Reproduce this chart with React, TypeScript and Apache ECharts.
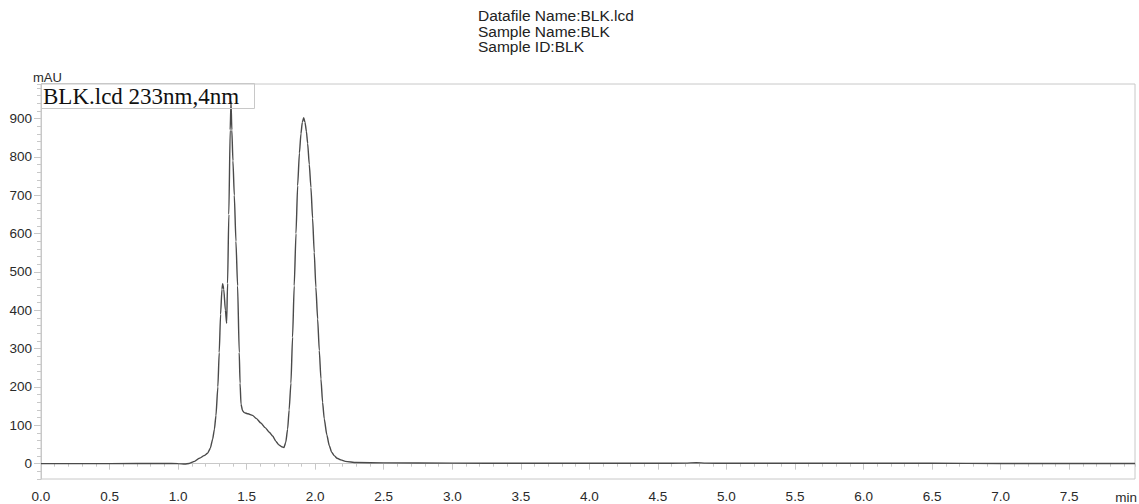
import React, { useEffect, useRef } from "react";
import * as echarts from "echarts";

const titleLines = ["Datafile Name:BLK.lcd", "Sample Name:BLK", "Sample ID:BLK"];
const seriesName = "BLK.lcd 233nm,4nm";
const yUnit = "mAU";
const xUnit = "min";

const timeMin = [
  0.0, 0.5, 0.9, 1.0, 1.05, 1.08, 1.12, 1.155, 1.19, 1.215, 1.235, 1.252, 1.265, 1.276,
  1.29, 1.3, 1.31, 1.32, 1.325, 1.333, 1.345, 1.354, 1.361, 1.37, 1.38, 1.386, 1.392,
  1.4, 1.41, 1.422, 1.434, 1.446, 1.452, 1.459, 1.47, 1.483, 1.51, 1.543, 1.57, 1.604,
  1.635, 1.665, 1.69, 1.714, 1.735, 1.755, 1.772, 1.785, 1.799, 1.81, 1.823, 1.835,
  1.847, 1.86, 1.872, 1.885, 1.896, 1.906, 1.916, 1.926, 1.936, 1.945, 1.957, 1.969,
  1.981, 1.993, 2.005, 2.018, 2.03, 2.042, 2.054, 2.066, 2.085, 2.103, 2.12, 2.139,
  2.16, 2.188, 2.22, 2.3, 2.5, 3.0, 3.5, 4.0, 4.5, 4.7, 4.78, 4.85, 5.0, 5.5, 6.0, 6.5,
  7.0, 7.5, 7.98,
];
const signalMAU = [
  0, 0, 0.5, 0, -1, 0.5, 6, 14, 21, 27, 40, 64, 90, 125,
  200, 290, 390, 455, 469, 455, 400, 366, 470, 650, 870, 945, 870,
  790, 700, 580, 464, 290, 210, 155, 138, 133, 130, 126, 118, 106,
  94, 82, 72, 58, 49, 44, 42, 55, 90, 140, 210, 330,
  464, 600, 725, 810, 860, 890, 902, 890, 866, 835, 780, 720,
  640, 551, 460, 377, 295, 221, 160, 117, 75, 47, 30, 21,
  14, 10, 6, 3, 2, 1.5, 1, 1, 1, 1.5, 2.5, 1.5, 1, 1, 1, 1,
  0.5, 0.5, 0.5,
];
const xTicks = [0, 0.5, 1, 1.5, 2, 2.5, 3, 3.5, 4, 4.5, 5, 5.5, 6, 6.5, 7, 7.5];
const yTicks = [0, 100, 200, 300, 400, 500, 600, 700, 800, 900];

const X_MIN = 0;
const X_MAX = 7.98;
const Y_MIN = -40;
const Y_MAX = 990;

export default function App() {
  const ref = useRef<HTMLDivElement>(null);
  useEffect(() => {
    if (!ref.current) return;
    const chart = echarts.init(ref.current, null, { renderer: "svg" });
    const sans = "'Liberation Sans', Arial, sans-serif";
    const frame = "#c8c8c8";
    const labelColor = "#2a2a2a";
    const data = timeMin.map((t, i) => [t, signalMAU[i]]);
    chart.setOption({
      animation: false,
      backgroundColor: "#fff",
      title: {
        text: titleLines.join("\n"),
        left: 478,
        top: 8,
        padding: 0,
        textStyle: {
          fontFamily: sans,
          fontSize: 15.5,
          fontWeight: "normal",
          lineHeight: 15.5,
          color: "#222",
        },
      },
      grid: {
        left: 41,
        right: 4,
        top: 84,
        bottom: 25,
        show: true,
        borderColor: frame,
        borderWidth: 1,
        backgroundColor: "transparent",
      },
      xAxis: [
        {
          type: "value",
          min: X_MIN,
          max: X_MAX,
          position: "bottom",
          axisLine: { show: true, lineStyle: { color: frame, width: 1 } },
          axisTick: { show: true, length: 6, customValues: xTicks, lineStyle: { color: frame } },
          axisLabel: {
            customValues: xTicks,
            formatter: (v: number) => v.toFixed(1),
            fontFamily: sans,
            fontSize: 13.5,
            color: labelColor,
            margin: 10,
          },
          splitLine: { show: false },
        },
        {
          type: "value",
          min: X_MIN,
          max: X_MAX,
          interval: 0.1,
          position: "bottom",
          axisLine: { show: false },
          axisTick: { show: true, length: 3, lineStyle: { color: frame } },
          axisLabel: { show: false },
          splitLine: { show: false },
        },
      ],
      yAxis: [
        {
          type: "value",
          min: Y_MIN,
          max: Y_MAX,
          position: "left",
          axisLine: { show: true, lineStyle: { color: frame, width: 1 } },
          axisTick: { show: true, length: 7, customValues: yTicks, lineStyle: { color: frame } },
          axisLabel: {
            customValues: yTicks,
            fontFamily: sans,
            fontSize: 13.5,
            color: labelColor,
            margin: 9,
          },
          splitLine: { show: false },
        },
        {
          type: "value",
          min: Y_MIN,
          max: Y_MAX,
          interval: 20,
          position: "left",
          axisLine: { show: false },
          axisTick: { show: true, length: 4, lineStyle: { color: frame } },
          axisLabel: { show: false },
          splitLine: { show: false },
        },
      ],
      series: [
        {
          name: seriesName,
          type: "line",
          data,
          xAxisIndex: 0,
          yAxisIndex: 0,
          showSymbol: false,
          symbol: "none",
          smooth: 0.2,
          smoothMonotone: "x",
          lineStyle: { color: "#4a4a4a", width: 1.4 },
        },
      ],
      graphic: [
        {
          type: "rect",
          shape: { x: 41.5, y: 83.5, width: 213, height: 25 },
          style: { fill: "transparent", stroke: frame, lineWidth: 1 },
          z: 10,
        },
        {
          type: "text",
          x: 43,
          y: 96,
          style: {
            text: seriesName,
            font: "23px 'Liberation Serif', 'Times New Roman', serif",
            fill: "#111",
            verticalAlign: "middle",
            align: "left",
          },
          z: 11,
        },
        {
          type: "text",
          x: 33,
          y: 77,
          style: {
            text: yUnit,
            font: `13px ${sans}`,
            fill: labelColor,
            verticalAlign: "middle",
            align: "left",
          },
        },
        {
          type: "text",
          x: 1137,
          y: 497,
          style: {
            text: xUnit,
            font: `13.5px ${sans}`,
            fill: labelColor,
            verticalAlign: "middle",
            align: "right",
          },
        },
      ],
    });
    return () => chart.dispose();
  }, []);
  return (
    <div
      ref={ref}
      style={{ position: "fixed", left: 0, top: 0, width: 1139, height: 504 }}
    />
  );
}
